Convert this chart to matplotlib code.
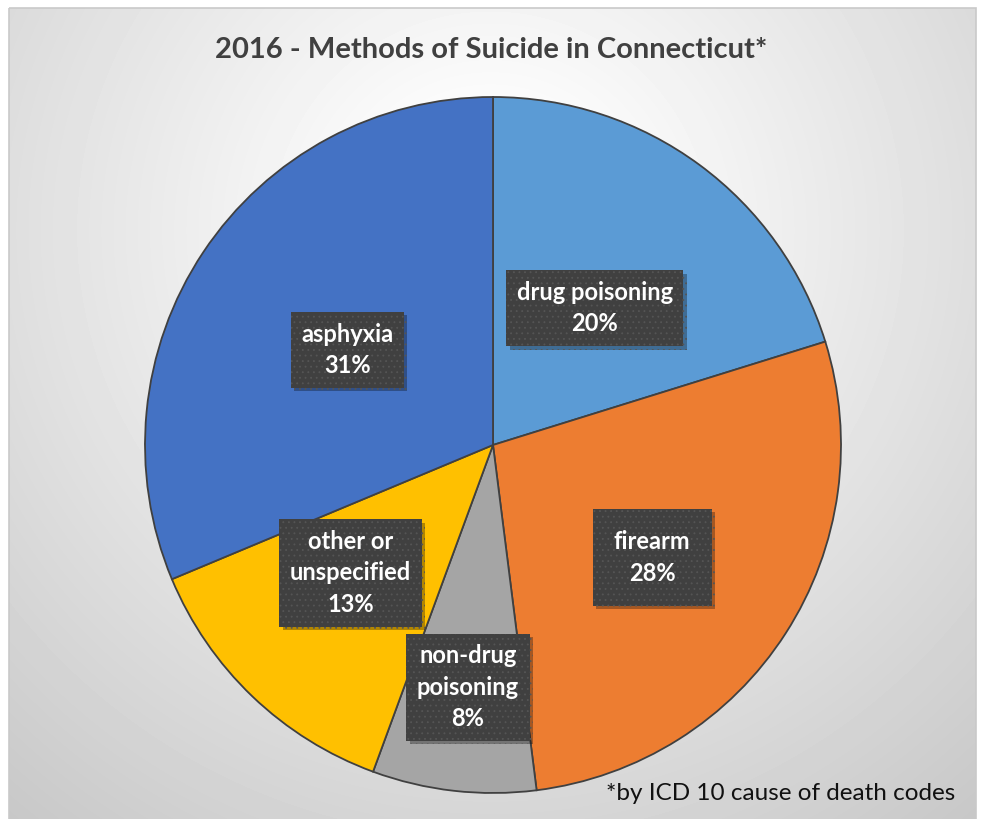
import numpy as np
import matplotlib
matplotlib.use("Agg")
import matplotlib.pyplot as plt
from matplotlib.patches import Rectangle
import matplotlib.patheffects as pe

categories = ["drug poisoning", "firearm", "non-drug\npoisoning", "other or\nunspecified", "asphyxia"]
shares = [20.2, 27.8, 7.6, 13.1, 31.3]
colors = ["#5B9BD5", "#ED7D31", "#A5A5A5", "#FFC000", "#4472C4"]

# label placement: radius fraction, angle nudge (deg), box padding
label_dist = [0.49, 0.56, 0.70, 0.55, 0.50]
label_nudge = [0.3, 2.5, -0.6, 4.3, -0.5]
label_pad = [0.45, 0.9, 0.45, 0.45, 0.45]

W, H = 981, 819
fig = plt.figure(figsize=(W / 100, H / 100), dpi=100)
fig.patch.set_facecolor("white")

# background: radial grey gradient inside the chart frame
bg = fig.add_axes([0, 0, 1, 1])
bg.set_xlim(0, W)
bg.set_ylim(H, 0)
bg.axis("off")
yy, xx = np.mgrid[8:H:1.0, 9:976:1.0]
dist = np.hypot(xx - 490, (yy - 230) * 1.0)
shade = np.clip(262 - 0.082 * dist, 180, 255) / 255.0
bg.imshow(shade, cmap="gray", vmin=0, vmax=1, extent=(9, 976, H, 8), aspect="auto")
bg.add_patch(Rectangle((9, 8), 967, H, fill=False, edgecolor="#c9c9c9", linewidth=1.2))

bg.text(491, 50, "2016 - Methods of Suicide in Connecticut*", ha="center", va="center",
        fontsize=21, fontweight="bold", color="#404040", family="Lato")
bg.text(955, 793, "*by ICD 10 cause of death codes", ha="right", va="center",
        fontsize=17.5, color="#111111", family="Lato")

cx, cy, r = 493, 445, 348
ax = fig.add_axes([(cx - r) / W, (H - cy - r) / H, 2 * r / W, 2 * r / H])
wedges, _ = ax.pie(shares, colors=colors, startangle=90, counterclock=False,
                   wedgeprops=dict(edgecolor="#404040", linewidth=1.3))
ax.set_xlim(-1, 1)
ax.set_ylim(-1, 1)
ax.set_aspect("equal")
ax.axis("off")

matplotlib.rcParams["hatch.linewidth"] = 0.6
for w, name, share, d, nudge, pad in zip(wedges, categories, shares,
                                         label_dist, label_nudge, label_pad):
    ang = np.deg2rad((w.theta1 + w.theta2) / 2 - nudge)
    x, y = d * np.cos(ang), d * np.sin(ang)
    t = ax.text(x, y, f"{name}\n{round(share)}%", ha="center", va="center",
                fontsize=17, fontweight="bold", color="white", family="Lato",
                linespacing=1.45,
                bbox=dict(boxstyle=f"square,pad={pad}", facecolor="#404040",
                          edgecolor="#555555", linewidth=0, hatch="..."))
    t.get_bbox_patch().set_path_effects([
        pe.SimplePatchShadow(offset=(2.5, -2.5), shadow_rgbFace="black", alpha=0.3),
        pe.Normal()])

fig.savefig("out.png", dpi=100)
